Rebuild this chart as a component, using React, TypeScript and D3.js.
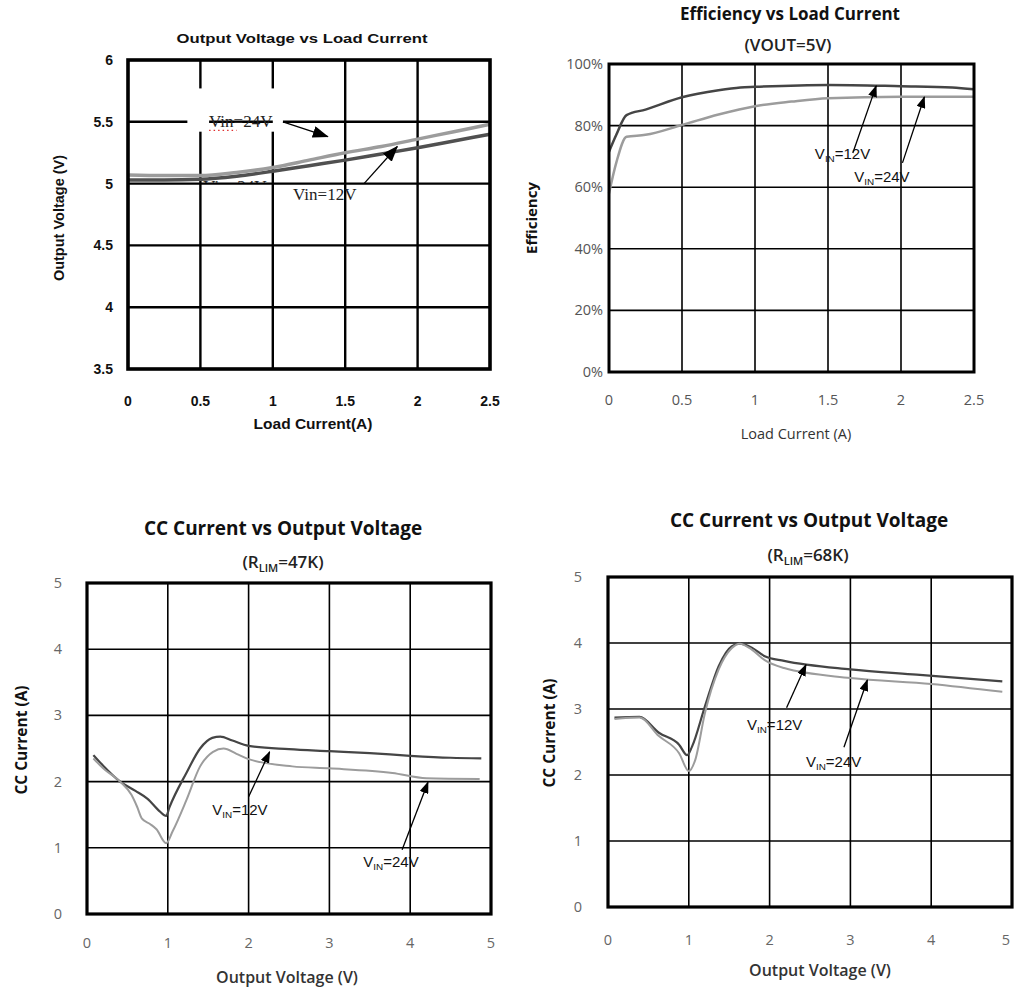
import React from 'react';
import * as d3 from 'd3';

// ---- Output Voltage vs Load Current ----
const voLoad = [0, 0.25, 0.5, 0.75, 1, 1.25, 1.5, 1.75, 2, 2.25, 2.5];
const voVin24 = [5.07, 5.065, 5.065, 5.09, 5.13, 5.19, 5.25, 5.3, 5.36, 5.42, 5.48];
const voVin12 = [5.03, 5.03, 5.035, 5.06, 5.1, 5.145, 5.19, 5.24, 5.29, 5.345, 5.4];
const voXTicks = [0, 0.5, 1, 1.5, 2, 2.5];
const voYTicks = [3.5, 4, 4.5, 5, 5.5, 6];

// ---- Efficiency vs Load Current ----
const effLoad12 = [0, 0.05, 0.12, 0.25, 0.5, 0.75, 0.9, 1, 1.5, 2, 2.35, 2.5];
const effVin12 = [71.5, 77, 83.4, 85.2, 89.2, 91.5, 92.4, 92.6, 93.2, 92.8, 92.4, 91.8];
const effLoad24 = [0, 0.05, 0.12, 0.25, 0.5, 0.75, 1, 1.25, 1.5, 2, 2.5];
const effVin24 = [58, 68, 76.4, 77, 80.2, 83.6, 86.3, 87.8, 88.9, 89.4, 89.4];
const effXTicks = [0, 0.5, 1, 1.5, 2, 2.5];
const effYTicks = [0, 20, 40, 60, 80, 100];

// ---- CC Current vs Output Voltage, RLIM=47K ----
const cc47Vo12 = [0.08, 0.2, 0.41, 0.6, 0.75, 0.9, 0.98, 1.02, 1.23, 1.4, 1.55, 1.65, 1.8, 2, 2.5, 3, 3.5, 4, 4.5, 4.88];
const cc47Vin12 = [2.4, 2.24, 2.0, 1.86, 1.74, 1.55, 1.48, 1.61, 2.13, 2.5, 2.66, 2.68, 2.62, 2.54, 2.49, 2.46, 2.43, 2.39, 2.36, 2.35];
const cc47Vo24 = [0.08, 0.2, 0.41, 0.55, 0.62, 0.68, 0.78, 0.86, 0.98, 1.06, 1.23, 1.4, 1.56, 1.69, 1.85, 2, 2.54, 3, 3.78, 4.2, 4.86];
const cc47Vin24 = [2.35, 2.2, 2.0, 1.8, 1.62, 1.44, 1.36, 1.28, 1.07, 1.25, 1.72, 2.23, 2.45, 2.5, 2.42, 2.34, 2.23, 2.2, 2.13, 2.05, 2.04];

// ---- CC Current vs Output Voltage, RLIM=68K ----
const cc68Vo12 = [0.08, 0.39, 0.63, 0.88, 0.98, 1.04, 1.2, 1.37, 1.53, 1.63, 1.78, 1.94, 2.18, 3, 3.82, 4.88];
const cc68Vin12 = [2.87, 2.88, 2.64, 2.46, 2.3, 2.43, 3.04, 3.65, 3.95, 3.99, 3.93, 3.8, 3.73, 3.6, 3.52, 3.42];
const cc68Vo24 = [0.08, 0.39, 0.63, 0.88, 1.0, 1.08, 1.2, 1.37, 1.53, 1.63, 1.78, 1.94, 2.18, 3, 4, 4.88];
const cc68Vin24 = [2.85, 2.87, 2.59, 2.33, 2.06, 2.23, 2.94, 3.6, 3.92, 3.99, 3.9, 3.74, 3.62, 3.47, 3.38, 3.26];

const ccTicks = [0, 1, 2, 3, 4, 5];

const DARK = '#454545';
const LIGHT = '#9c9c9c';
const SANS = 'Liberation Sans, Arial, sans-serif';
const UI = 'Open Sans, sans-serif';

type Scale = d3.ScaleLinear<number, number>;
type Series = { xs: number[]; ys: number[]; color: string; width: number };
type Arrow = { from: [number, number]; to: [number, number] };

interface PanelProps {
  box: { l: number; r: number; t: number; b: number };
  xDomain: [number, number];
  yDomain: [number, number];
  xTicks: number[];
  yTicks: number[];
  yFmt?: (v: number) => string;
  gridW: number;
  frameW: number;
  tick: { family: string; size: number; weight: number | string; color: string; yX: number; yAnchor: string; xY: number; maxX?: number };
  series: Series[];
  arrows: Arrow[];
  marker: string;
  under?: (x: Scale, y: Scale) => React.ReactNode;
  over?: (x: Scale, y: Scale) => React.ReactNode;
}

const Panel = (p: PanelProps) => {
  const x = d3.scaleLinear().domain(p.xDomain).range([p.box.l, p.box.r]);
  const y = d3.scaleLinear().domain(p.yDomain).range([p.box.b, p.box.t]);
  const line = d3
    .line<[number, number]>()
    .x(d => x(d[0]))
    .y(d => y(d[1]))
    .curve(d3.curveMonotoneX);

  const innerX = p.xTicks.slice(1, -1);
  const innerY = p.yTicks.slice(1, -1);
  const fmt = p.yFmt || ((v: number) => String(v));
  const maxX = p.tick.maxX ?? Infinity;

  return (
    <g>
      {innerX.map(v => (
        <line key={'gx' + v} x1={x(v)} x2={x(v)} y1={p.box.t} y2={p.box.b} stroke="#000" strokeWidth={p.gridW} />
      ))}
      {innerY.map(v => (
        <line key={'gy' + v} x1={p.box.l} x2={p.box.r} y1={y(v)} y2={y(v)} stroke="#000" strokeWidth={p.gridW} />
      ))}
      {p.under && p.under(x, y)}
      {p.series.map((s, i) => (
        <path
          key={'s' + i}
          d={line(s.xs.map((v, j) => [v, s.ys[j]] as [number, number])) || ''}
          fill="none"
          stroke={s.color}
          strokeWidth={s.width}
          strokeLinejoin="round"
        />
      ))}
      <rect
        x={p.box.l}
        y={p.box.t}
        width={p.box.r - p.box.l}
        height={p.box.b - p.box.t}
        fill="none"
        stroke="#000"
        strokeWidth={p.frameW}
      />
      {p.arrows.map((a, i) => (
        <line
          key={'a' + i}
          x1={x(a.from[0])}
          y1={y(a.from[1])}
          x2={x(a.to[0])}
          y2={y(a.to[1])}
          stroke="#000"
          strokeWidth={1.3}
          markerEnd={`url(#${p.marker})`}
        />
      ))}
      {p.yTicks.map(v => (
        <text
          key={'ty' + v}
          x={p.tick.yX}
          y={y(v)}
          dy="0.35em"
          textAnchor={p.tick.yAnchor as any}
          fontFamily={p.tick.family}
          fontSize={p.tick.size}
          fontWeight={p.tick.weight}
          fill={p.tick.color}
        >
          {fmt(v)}
        </text>
      ))}
      {p.xTicks.map(v => (
        <text
          key={'tx' + v}
          x={Math.min(x(v), maxX)}
          y={p.tick.xY}
          textAnchor="middle"
          fontFamily={p.tick.family}
          fontSize={p.tick.size}
          fontWeight={p.tick.weight}
          fill={p.tick.color}
        >
          {v}
        </text>
      ))}
      {p.over && p.over(x, y)}
    </g>
  );
};

const Vin = ({ x, y, v, size = 15 }: { x: number; y: number; v: string; size?: number }) => (
  <text x={x} y={y} fontFamily={SANS} fontSize={size} fill="#111">
    V
    <tspan fontSize={size * 0.66} dy={3}>
      IN
    </tspan>
    <tspan dy={-3}>={v}</tspan>
  </text>
);

const Rlim = ({ x, y, v }: { x: number; y: number; v: string }) => (
  <text x={x} y={y} textAnchor="middle" fontFamily={UI} fontSize={17} fontWeight={600} fill="#222">
    (R
    <tspan fontSize={11} dy={4}>
      LIM
    </tspan>
    <tspan dy={-4}>={v})</tspan>
  </text>
);

export default function App() {
  return (
    <div style={{ position: 'absolute', left: 0, top: 0 }}>
      <svg width={1014} height={988} style={{ display: 'block', background: '#fff' }}>
        <defs>
          <marker id="ahBig" markerUnits="userSpaceOnUse" markerWidth={16} markerHeight={12} viewBox="0 0 16 12" refX={15} refY={6} orient="auto">
            <path d="M0,0 L16,6 L0,12 z" fill="#000" />
          </marker>
          <marker id="ah" markerUnits="userSpaceOnUse" markerWidth={12} markerHeight={9} viewBox="0 0 12 9" refX={11} refY={4.5} orient="auto">
            <path d="M0,0 L12,4.5 L0,9 z" fill="#000" />
          </marker>
          <clipPath id="hidClip">
            <rect x={150} y={170} width={150} height={13} />
          </clipPath>
        </defs>

        {/* Panel 1: Output Voltage vs Load Current */}
        <text x={302} y={43} textAnchor="middle" fontFamily={SANS} fontWeight="bold" fontSize={13.5} textLength={251} lengthAdjust="spacingAndGlyphs" fill="#111">
          Output Voltage vs Load Current
        </text>
        <text transform="translate(64,218) rotate(-90)" textAnchor="middle" fontFamily={SANS} fontWeight="bold" fontSize={14.5} fill="#111">
          Output Voltage (V)
        </text>
        <text x={313} y={429} textAnchor="middle" fontFamily={SANS} fontWeight="bold" fontSize={15.5} fill="#111">
          Load Current(A)
        </text>
        <Panel
          box={{ l: 128, r: 490, t: 60, b: 369 }}
          xDomain={[0, 2.5]}
          yDomain={[3.5, 6]}
          xTicks={voXTicks}
          yTicks={voYTicks}
          gridW={2.4}
          frameW={3.6}
          tick={{ family: SANS, size: 14, weight: 'bold', color: '#111', yX: 113, yAnchor: 'end', xY: 406 }}
          series={[
            { xs: voLoad, ys: voVin12, color: '#505050', width: 3.5 },
            { xs: voLoad, ys: voVin24, color: LIGHT, width: 3.5 },
          ]}
          arrows={[
            { from: [1.07, 5.5], to: [1.38, 5.38] },
            { from: [1.63, 5.0], to: [1.86, 5.3] },
          ]}
          marker="ahBig"
          under={(x, y) => (
            <g>
              <text x={x(0.52)} y={y(4.93)} fontFamily="Liberation Serif, serif" fontSize={17} fill="#222" clipPath="url(#hidClip)">
                Vin=24V
              </text>
              <rect x={x(0.41)} y={y(5.77)} width={x(1.07) - x(0.41)} height={y(5.42) - y(5.77)} fill="#fff" />
              <line x1={x(0.56)} x2={x(1.0)} y1={y(5.5)} y2={y(5.5)} stroke="#000" strokeWidth={2.4} />
            </g>
          )}
          over={(x, y) => (
            <g>
              <text x={x(0.56)} y={y(5.46)} fontFamily="Liberation Serif, serif" fontSize={17} fill="#222">
                Vin=24V
              </text>
              <line x1={x(0.56)} x2={x(0.75)} y1={y(5.43)} y2={y(5.43)} stroke="#e03030" strokeWidth={1.2} strokeDasharray="1.5,3" />
              <text x={x(1.14)} y={y(4.87)} fontFamily="Liberation Serif, serif" fontSize={17} fill="#222">
                Vin=12V
              </text>
            </g>
          )}
        />

        {/* Panel 2: Efficiency vs Load Current */}
        <text x={790} y={20} textAnchor="middle" fontFamily={UI} fontWeight="bold" fontSize={17} fill="#111">
          Efficiency vs Load Current
        </text>
        <text x={788} y={51} textAnchor="middle" fontFamily={UI} fontWeight={600} fontSize={17} fill="#222">
          (VOUT=5V)
        </text>
        <text transform="translate(537,218) rotate(-90)" textAnchor="middle" fontFamily={UI} fontWeight="bold" fontSize={15} fill="#111">
          Efficiency
        </text>
        <text x={796} y={439} textAnchor="middle" fontFamily={UI} fontWeight={500} fontSize={14.5} fill="#333">
          Load Current (A)
        </text>
        <Panel
          box={{ l: 609, r: 974, t: 64, b: 372 }}
          xDomain={[0, 2.5]}
          yDomain={[0, 100]}
          xTicks={effXTicks}
          yTicks={effYTicks}
          yFmt={v => v + '%'}
          gridW={1.6}
          frameW={3}
          tick={{ family: UI, size: 14.5, weight: 400, color: '#555', yX: 603, yAnchor: 'end', xY: 405 }}
          series={[
            { xs: effLoad12, ys: effVin12, color: DARK, width: 2.5 },
            { xs: effLoad24, ys: effVin24, color: LIGHT, width: 2.5 },
          ]}
          arrows={[
            { from: [1.67, 71.1], to: [1.83, 92.9] },
            { from: [2.01, 67.9], to: [2.16, 89.3] },
          ]}
          marker="ah"
          over={(x, y) => (
            <g>
              <Vin x={x(1.41)} y={y(69.2)} v="12V" />
              <Vin x={x(1.68)} y={y(61.7)} v="24V" />
            </g>
          )}
        />

        {/* Panel 3: CC Current vs Output Voltage (RLIM=47K) */}
        <text x={283} y={535} textAnchor="middle" fontFamily={UI} fontWeight="bold" fontSize={19} fill="#111">
          CC Current vs Output Voltage
        </text>
        <Rlim x={283} y={568} v="47K" />
        <text transform="translate(27,740) rotate(-90)" textAnchor="middle" fontFamily={UI} fontWeight="bold" fontSize={15.5} fill="#111">
          CC Current (A)
        </text>
        <text x={287} y={983} textAnchor="middle" fontFamily={UI} fontWeight={600} fontSize={16} fill="#333">
          Output Voltage (V)
        </text>
        <Panel
          box={{ l: 87, r: 491, t: 583, b: 914 }}
          xDomain={[0, 5]}
          yDomain={[0, 5]}
          xTicks={ccTicks}
          yTicks={ccTicks}
          gridW={1.6}
          frameW={3.2}
          tick={{ family: UI, size: 14.5, weight: 400, color: '#666', yX: 58, yAnchor: 'middle', xY: 948 }}
          series={[
            { xs: cc47Vo12, ys: cc47Vin12, color: DARK, width: 2.2 },
            { xs: cc47Vo24, ys: cc47Vin24, color: LIGHT, width: 2 },
          ]}
          arrows={[
            { from: [2.0, 1.77], to: [2.26, 2.45] },
            { from: [3.9, 0.97], to: [4.22, 1.99] },
          ]}
          marker="ah"
          over={(x, y) => (
            <g>
              <Vin x={x(1.55)} y={y(1.5)} v="12V" />
              <Vin x={x(3.42)} y={y(0.71)} v="24V" />
            </g>
          )}
        />

        {/* Panel 4: CC Current vs Output Voltage (RLIM=68K) */}
        <text x={809} y={527} textAnchor="middle" fontFamily={UI} fontWeight="bold" fontSize={19} fill="#111">
          CC Current vs Output Voltage
        </text>
        <Rlim x={808} y={561} v="68K" />
        <text transform="translate(555,733) rotate(-90)" textAnchor="middle" fontFamily={UI} fontWeight="bold" fontSize={15.5} fill="#111">
          CC Current (A)
        </text>
        <text x={820} y={976} textAnchor="middle" fontFamily={UI} fontWeight={600} fontSize={16} fill="#333">
          Output Voltage (V)
        </text>
        <Panel
          box={{ l: 608, r: 1012, t: 577, b: 907 }}
          xDomain={[0, 5]}
          yDomain={[0, 5]}
          xTicks={ccTicks}
          yTicks={ccTicks}
          gridW={1.6}
          frameW={3.2}
          tick={{ family: UI, size: 14.5, weight: 400, color: '#666', yX: 578, yAnchor: 'middle', xY: 945, maxX: 1006 }}
          series={[
            { xs: cc68Vo12, ys: cc68Vin12, color: DARK, width: 2.2 },
            { xs: cc68Vo24, ys: cc68Vin24, color: LIGHT, width: 2 },
          ]}
          arrows={[
            { from: [2.21, 3.02], to: [2.45, 3.67] },
            { from: [2.92, 2.42], to: [3.21, 3.44] },
          ]}
          marker="ah"
          over={(x, y) => (
            <g>
              <Vin x={x(1.72)} y={y(2.68)} v="12V" />
              <Vin x={x(2.45)} y={y(2.12)} v="24V" />
            </g>
          )}
        />
      </svg>
    </div>
  );
}
